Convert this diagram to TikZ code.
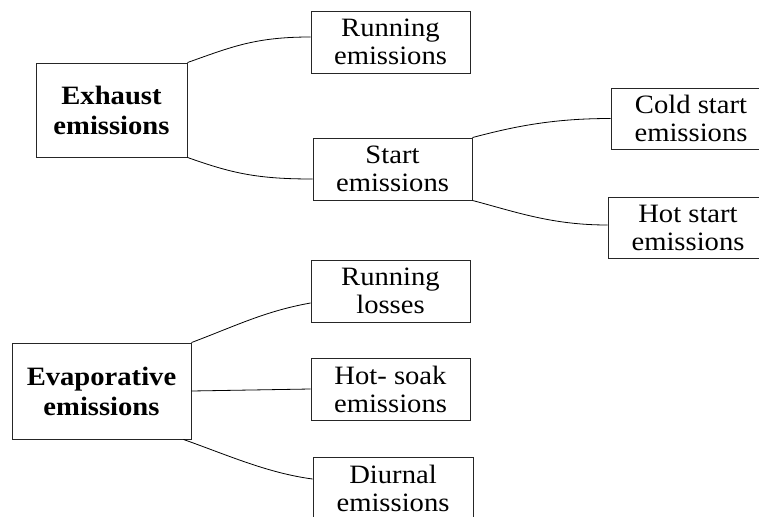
\documentclass[tikz,border=0pt]{standalone}
\usepackage{fontspec}
\setmainfont{Liberation Serif}[FakeStretch=1.08]
\begin{document}
\begin{tikzpicture}[x=1pt,y=-1pt,
  box/.style={draw=black!85,line width=0.9pt,align=center,inner sep=0pt,
    font=\fontsize{26.5}{28}\selectfont},
  bbox/.style={box,font=\fontsize{26.5}{30}\selectfont\bfseries},
  link/.style={draw=black,line width=0.8pt}]
\useasboundingbox (0,0) rectangle (759,516);
\clip (0,0) rectangle (759,516);
% nodes
\node[bbox,minimum width=151pt,minimum height=94pt] (ex) at (111.5,110) {Exhaust\\emissions};
\node[box,minimum width=159pt,minimum height=62pt] (run) at (390.5,42) {Running\\emissions};
\node[box,minimum width=159pt,minimum height=62pt] (st) at (392.5,169) {Start\\emissions};
\node[box,minimum width=160pt,minimum height=61pt] (cold) at (691,118.5) {Cold start\\emissions};
\node[box,minimum width=160pt,minimum height=61pt] (hot) at (688,227.5) {Hot start\\emissions};
\node[bbox,minimum width=179pt,minimum height=96pt] (ev) at (101.5,391) {Evaporative\\emissions};
\node[box,minimum width=159pt,minimum height=62pt] (rl) at (390.5,291) {Running\\losses};
\node[box,minimum width=159pt,minimum height=62pt] (hs) at (390.5,389) {Hot- soak\\emissions};
\node[box,minimum width=160pt,minimum height=62pt] (di) at (393,488) {Diurnal\\emissions};
% connectors
\draw[link] (ex.north east) .. controls +(45,-16) and +(-55,0) .. ([yshift=5pt]run.west);
\draw[link] (ex.south east) .. controls +(45,16) and +(-55,0) .. ([yshift=-10pt]st.west);
\draw[link] (st.north east) .. controls +(45,-12) and +(-55,0) .. (cold.west);
\draw[link] (st.south east) .. controls +(45,12) and +(-55,0) .. ([yshift=2.5pt]hot.west);
\draw[link] (ev.north east) .. controls +(45,-17) and +(-45,8) .. ([yshift=-12pt]rl.west);
\draw[link] (ev.east) -- (hs.west);
\draw[link] ([xshift=-8pt]ev.south east) .. controls +(45,16) and +(-45,-6) .. ([yshift=9pt]di.west);
\end{tikzpicture}
\end{document}
